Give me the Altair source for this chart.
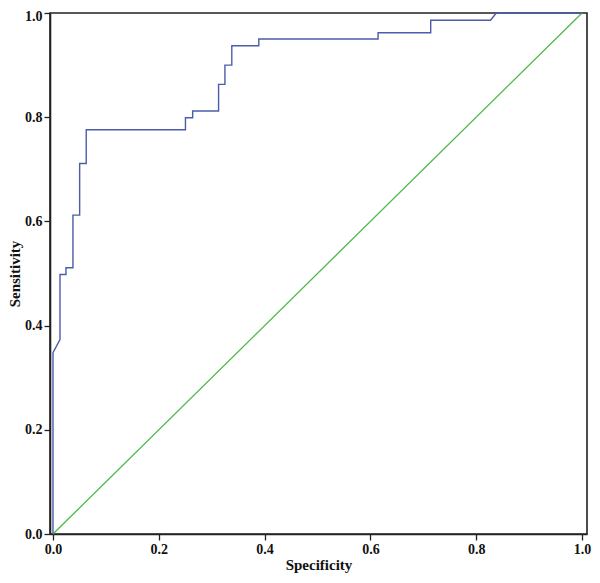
import altair as alt
import pandas as pd

# ROC curve corner points (1 - specificity axis labelled "Specificity")
roc_x = [0.0, 0.0, 0.0132, 0.0132, 0.0245, 0.0245, 0.0377, 0.0377, 0.0504, 0.0504,
         0.0628, 0.0628, 0.2504, 0.2504, 0.264, 0.264, 0.313, 0.313, 0.325, 0.325,
         0.338, 0.338, 0.389, 0.389, 0.6145, 0.6145, 0.714, 0.714, 0.827, 0.838, 1.0]
roc_y = [0.0, 0.348, 0.373, 0.498, 0.498, 0.511, 0.511, 0.612, 0.612, 0.711,
         0.711, 0.776, 0.776, 0.799, 0.799, 0.812, 0.812, 0.863, 0.863, 0.900,
         0.900, 0.937, 0.937, 0.950, 0.950, 0.962, 0.962, 0.986, 0.986, 1.0, 1.0]

ref_x = [0.0, 1.0]
ref_y = [0.0, 1.0]

tick_values = [0.0, 0.2, 0.4, 0.6, 0.8, 1.0]

roc_df = pd.DataFrame({"x": roc_x, "y": roc_y, "order": list(range(len(roc_x)))})
ref_df = pd.DataFrame({"x": ref_x, "y": ref_y, "order": [0, 1]})

xscale = alt.Scale(domain=[-0.00567, 1.00945], nice=False, zero=False)
yscale = alt.Scale(domain=[0, 1], nice=False)

xaxis = alt.Axis(values=tick_values, format=".1f", title="Specificity", grid=False,
                 tickSize=6, labelPadding=2, titlePadding=1)
yaxis = alt.Axis(values=tick_values, format=".1f", title="Sensitivity", grid=False,
                 tickSize=6, labelPadding=2, titlePadding=2,
                 labelOffset={"condition": {"test": "datum.value >= 1", "value": 3}, "value": 0})

ref = alt.Chart(ref_df).mark_line(color="#4CB848", strokeWidth=1.3).encode(
    x=alt.X("x:Q", scale=xscale, axis=xaxis),
    y=alt.Y("y:Q", scale=yscale, axis=yaxis),
    order="order:Q",
)

roc = alt.Chart(roc_df).mark_line(color="#4B5DA8", strokeWidth=1.4).encode(
    x=alt.X("x:Q", scale=xscale),
    y=alt.Y("y:Q", scale=yscale),
    order="order:Q",
)

chart = (
    alt.layer(ref, roc)
    .properties(
        width=537,
        height=521,
        autosize=alt.AutoSizeParams(type="none"),
        padding={"left": 42, "top": 5, "right": 5, "bottom": 41},
        background="white",
    )
    .configure_view(stroke="#222222", strokeWidth=1.6)
    .configure_axis(
        labelFont="Liberation Serif",
        labelFontWeight="bold",
        labelFontSize=14,
        labelColor="#111111",
        titleFont="Liberation Serif",
        titleFontWeight="bold",
        titleFontSize=15,
        titleColor="#111111",
        domainColor="#222222",
        domainWidth=1.6,
        tickColor="#222222",
        tickWidth=1.3,
    )
)

chart.save("out.html", embed_options={"renderer": "svg", "actions": False})
